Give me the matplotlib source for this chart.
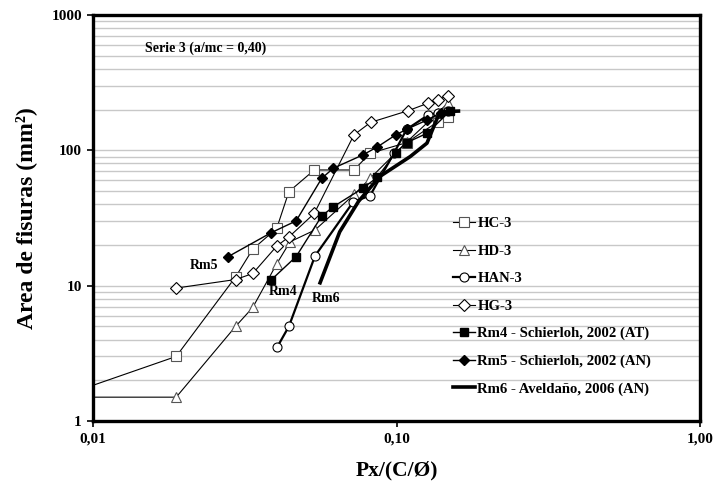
import matplotlib
matplotlib.use("Agg")
import matplotlib.pyplot as plt
from matplotlib.ticker import FixedLocator, NullLocator, NullFormatter

# DATA
hc3_x = [0.005, 0.0188, 0.0295, 0.0336, 0.0403, 0.0442, 0.0536, 0.0724, 0.0818, 0.108, 0.137, 0.148]
hc3_y = [1.07, 3.0, 11.6, 18.6, 26.5, 49.5, 71.6, 71.6, 95, 114, 163, 177]

hd3_x = [0.005, 0.0188, 0.0295, 0.0336, 0.0403, 0.0446, 0.0539, 0.0726, 0.0818, 0.108, 0.137, 0.148]
hd3_y = [1.5, 1.5, 5.0, 6.9, 14.5, 21.1, 25.8, 47.3, 62, 115, 190, 225]

han3_x = [0.0404, 0.0442, 0.0539, 0.0721, 0.0818, 0.098, 0.108, 0.127, 0.137, 0.148]
han3_y = [3.5, 5.0, 16.6, 41.7, 46.2, 95, 143, 182, 190, 195]

hg3_x = [0.0188, 0.0295, 0.0336, 0.0403, 0.0443, 0.0536, 0.0724, 0.0822, 0.109, 0.127, 0.137, 0.148]
hg3_y = [9.6, 11.1, 12.3, 19.6, 23.0, 34.2, 130, 161, 196, 223, 237, 254]

rm4_x = [0.0386, 0.0467, 0.0567, 0.0619, 0.0774, 0.0865, 0.0994, 0.108, 0.1264, 0.15]
rm4_y = [11.0, 16.4, 32.7, 38.3, 52.4, 63.2, 96, 114, 134, 195]

rm5_x = [0.0279, 0.0386, 0.0467, 0.0567, 0.0619, 0.0774, 0.0865, 0.0994, 0.108, 0.1264, 0.14]
rm5_y = [16.4, 24.6, 30.1, 62.1, 73.7, 92.4, 106, 130, 143, 168, 190]

rm6_x = [0.056, 0.065, 0.075, 0.088, 0.111, 0.126, 0.139, 0.16]
rm6_y = [10.5, 25, 42, 64, 90, 113, 193, 195]

labels = ["HC-3", "HD-3", "HAN-3", "HG-3",
          "Rm4 - Schierloh, 2002 (AT)",
          "Rm5 - Schierloh, 2002 (AN)",
          "Rm6 - Aveldaño, 2006 (AN)"]

x_ticks = [0.01, 0.1, 1.0]
x_ticklabels = ["0,01", "0,10", "1,00"]
y_ticks = [1, 10, 100, 1000]
y_ticklabels = ["1", "10", "100", "1000"]

plt.rcParams["font.family"] = ["Liberation Serif", "DejaVu Serif"]
plt.rcParams["font.weight"] = "bold"

fig = plt.figure(figsize=(7.15, 4.91), dpi=100)
ax = fig.add_axes([93 / 715, 70 / 491, 607 / 715, 406 / 491])

ax.set_xscale("log")
ax.set_yscale("log")
ax.set_xlim(0.01, 1.0)
ax.set_ylim(1, 1000)

# horizontal grid at every minor/major decade step
for dec in [1, 10, 100]:
    for m in range(2, 11):
        ax.axhline(dec * m, color="#c8c8c8", lw=1.0, zorder=0)

ax.plot(hc3_x, hc3_y, color="black", lw=0.8, marker="s", ms=7,
        mfc="white", mec="#555555", mew=0.8, label=labels[0])
ax.plot(hd3_x, hd3_y, color="black", lw=0.8, marker="^", ms=7,
        mfc="white", mec="#555555", mew=0.8, label=labels[1])
ax.plot(han3_x, han3_y, color="black", lw=1.6, marker="o", ms=6.5,
        mfc="white", mec="black", mew=0.8, label=labels[2])
ax.plot(hg3_x, hg3_y, color="black", lw=0.8, marker="D", ms=6,
        mfc="white", mec="black", mew=0.8, label=labels[3])
ax.plot(rm4_x, rm4_y, color="black", lw=1.0, marker="s", ms=6,
        mfc="black", mec="black", label=labels[4])
ax.plot(rm5_x, rm5_y, color="black", lw=1.0, marker="D", ms=5,
        mfc="black", mec="black", label=labels[5])
ax.plot(rm6_x, rm6_y, color="black", lw=2.6, label=labels[6])

ax.xaxis.set_major_locator(FixedLocator(x_ticks))
ax.xaxis.set_minor_locator(NullLocator())
ax.xaxis.set_minor_formatter(NullFormatter())
ax.set_xticklabels(x_ticklabels)
ax.yaxis.set_major_locator(FixedLocator(y_ticks))
ax.yaxis.set_minor_locator(NullLocator())
ax.yaxis.set_minor_formatter(NullFormatter())
ax.set_yticklabels(y_ticklabels)
ax.tick_params(axis="both", direction="out", length=4, width=1.2,
               labelsize=11, pad=4)
for lab in ax.get_xticklabels() + ax.get_yticklabels():
    lab.set_fontweight("bold")

for sp in ax.spines.values():
    sp.set_linewidth(2.4)

ax.set_xlabel("Px/(C/Ø)", fontsize=15.5, fontweight="bold", labelpad=11)
ax.set_ylabel("Area de fisuras (mm²)", fontsize=17, fontweight="bold", labelpad=10)

ax.text(0.085, 0.918, "Serie 3 (a/mc = 0,40)", transform=ax.transAxes,
        fontsize=10, fontweight="bold", va="center", ha="left")
# series labels placed next to their curves
ax.text(0.0209, 14.2, "Rm5", fontsize=10, fontweight="bold", va="center", ha="left")
ax.text(0.0380, 9.1, "Rm4", fontsize=10, fontweight="bold", va="center", ha="left")
ax.text(0.0527, 8.0, "Rm6", fontsize=10, fontweight="bold", va="center", ha="left")

leg = ax.legend(loc="upper left", bbox_to_anchor=(0.593, 0.502), frameon=False,
                borderaxespad=0, borderpad=0, handlelength=1.5, handletextpad=0.15,
                labelspacing=0.96, prop={"size": 10.6, "weight": "bold"})

fig.savefig("out.png", dpi=100)
